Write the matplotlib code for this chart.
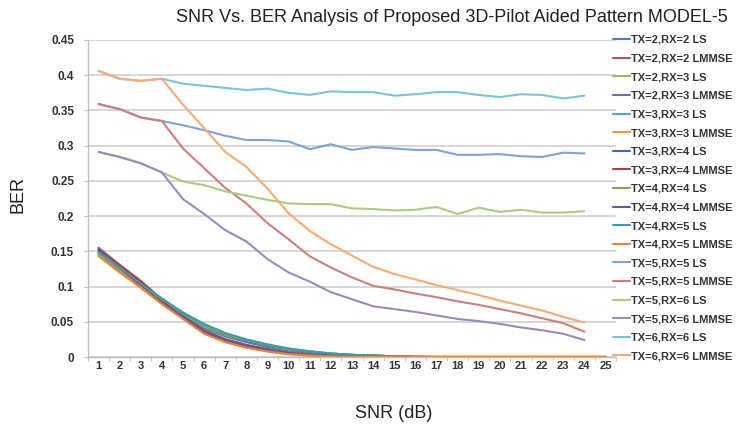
import matplotlib
matplotlib.use("Agg")
from matplotlib import pyplot as plt
import numpy as np

plt.rcParams["font.family"] = ["Liberation Sans", "DejaVu Sans"]

snr = list(range(1, 26))
x_labels = [str(s) for s in snr]

labels = [
    "TX=2,RX=2 LS", "TX=2,RX=2 LMMSE", "TX=2,RX=3 LS", "TX=2,RX=3 LMMSE",
    "TX=3,RX=3 LS", "TX=3,RX=3 LMMSE", "TX=3,RX=4 LS", "TX=3,RX=4 LMMSE",
    "TX=4,RX=4 LS", "TX=4,RX=4 LMMSE", "TX=4,RX=5 LS", "TX=4,RX=5 LMMSE",
    "TX=5,RX=5 LS", "TX=5,RX=5 LMMSE", "TX=5,RX=6 LS", "TX=5,RX=6 LMMSE",
    "TX=6,RX=6 LS", "TX=6,RX=6 LMMSE",
]

colors = [
    "#4F81BD", "#C0504D", "#9BBB59", "#8064A2", "#4BACC6", "#F79646",
    "#3F6FAA", "#A9413E", "#86A64A", "#6E5491", "#3A9AB3", "#E5833A",
    "#7FA3D3", "#CD7F7C", "#AECB7D", "#9D89BE", "#79C4D8", "#F9AB72",
]

# low-order configs (25 points each)
ber_2x2_ls = [0.150, 0.127, 0.103, 0.080, 0.059, 0.041, 0.029, 0.021, 0.014, 0.009, 0.006, 0.004, 0.002,
              0.001, 0.001, 0, 0, 0, 0, 0, 0, 0, 0, 0, 0]
ber_2x2_lmmse = [0.155, 0.131, 0.108, 0.082, 0.057, 0.037, 0.025, 0.017, 0.011, 0.006, 0.004, 0.002, 0.001,
                 0.001, 0, 0, 0, 0, 0, 0, 0, 0, 0, 0, 0]
ber_2x3_ls = [0.148, 0.126, 0.102, 0.081, 0.061, 0.044, 0.031, 0.023, 0.016, 0.011, 0.007, 0.004, 0.003,
              0.002, 0.001, 0.001, 0, 0, 0, 0, 0, 0, 0, 0, 0]
ber_2x3_lmmse = [0.154, 0.128, 0.100, 0.078, 0.056, 0.036, 0.024, 0.016, 0.010, 0.006, 0.003, 0.002, 0.001,
                 0, 0, 0, 0, 0, 0, 0, 0, 0, 0, 0, 0]
ber_3x3_ls = [0.147, 0.125, 0.103, 0.082, 0.062, 0.046, 0.033, 0.024, 0.017, 0.012, 0.008, 0.005, 0.003,
              0.002, 0.001, 0, 0, 0, 0, 0, 0, 0, 0, 0, 0]
ber_3x3_lmmse = [0.143, 0.120, 0.098, 0.076, 0.055, 0.034, 0.022, 0.014, 0.008, 0.004, 0.002, 0.001, 0,
                 0, 0, 0, 0, 0, 0, 0, 0, 0, 0, 0, 0]
ber_3x4_ls = [0.151, 0.128, 0.105, 0.082, 0.062, 0.045, 0.032, 0.023, 0.016, 0.011, 0.007, 0.004, 0.003,
              0.002, 0.001, 0, 0, 0, 0, 0, 0, 0, 0, 0, 0]
ber_3x4_lmmse = [0.152, 0.130, 0.107, 0.080, 0.055, 0.035, 0.024, 0.016, 0.010, 0.005, 0.003, 0.002, 0.001,
                 0, 0, 0, 0, 0, 0, 0, 0, 0, 0, 0, 0]
ber_4x4_ls = [0.146, 0.124, 0.102, 0.082, 0.063, 0.045, 0.032, 0.024, 0.017, 0.011, 0.008, 0.005, 0.003,
              0.002, 0.001, 0, 0, 0, 0, 0, 0, 0, 0, 0, 0]
ber_4x4_lmmse = [0.153, 0.127, 0.101, 0.077, 0.057, 0.038, 0.025, 0.017, 0.011, 0.006, 0.003, 0.002, 0.001,
                 0, 0, 0, 0, 0, 0, 0, 0, 0, 0, 0, 0]
ber_4x5_ls = [0.149, 0.127, 0.104, 0.083, 0.063, 0.047, 0.034, 0.025, 0.018, 0.012, 0.008, 0.005, 0.003,
              0.002, 0.001, 0, 0, 0, 0, 0, 0, 0, 0, 0, 0]
ber_4x5_lmmse = [0.144, 0.121, 0.099, 0.075, 0.054, 0.033, 0.021, 0.013, 0.008, 0.004, 0.002, 0.001, 0,
                 0, 0, 0, 0, 0, 0, 0, 0, 0, 0, 0, 0]

# high-order configs (24 points each)
ber_5x5_ls = [0.359, 0.352, 0.340, 0.335, 0.329, 0.322, 0.314, 0.308, 0.308, 0.306, 0.295, 0.302, 0.294,
              0.298, 0.296, 0.294, 0.294, 0.287, 0.287, 0.288, 0.285, 0.284, 0.290, 0.289]
ber_5x5_lmmse = [0.359, 0.352, 0.340, 0.335, 0.296, 0.268, 0.240, 0.218, 0.190, 0.167, 0.143, 0.127, 0.113,
                 0.101, 0.096, 0.090, 0.085, 0.079, 0.074, 0.068, 0.062, 0.055, 0.048, 0.036]
ber_5x6_ls = [0.291, 0.284, 0.275, 0.262, 0.249, 0.244, 0.235, 0.229, 0.223, 0.218, 0.217, 0.217, 0.211,
              0.210, 0.208, 0.209, 0.213, 0.203, 0.212, 0.206, 0.209, 0.205, 0.205, 0.207]
ber_5x6_lmmse = [0.291, 0.284, 0.275, 0.262, 0.224, 0.203, 0.180, 0.164, 0.139, 0.120, 0.107, 0.092, 0.082,
                 0.072, 0.068, 0.064, 0.059, 0.054, 0.051, 0.047, 0.042, 0.038, 0.033, 0.024]
ber_6x6_ls = [0.406, 0.395, 0.392, 0.395, 0.388, 0.385, 0.382, 0.379, 0.381, 0.375, 0.372, 0.377, 0.376,
              0.376, 0.371, 0.373, 0.376, 0.376, 0.372, 0.369, 0.373, 0.372, 0.367, 0.371]
ber_6x6_lmmse = [0.406, 0.395, 0.392, 0.395, 0.358, 0.325, 0.291, 0.270, 0.239, 0.204, 0.179, 0.160, 0.144,
                 0.128, 0.118, 0.110, 0.102, 0.095, 0.088, 0.080, 0.073, 0.066, 0.057, 0.049]

series = [
    ber_2x2_ls, ber_2x2_lmmse, ber_2x3_ls, ber_2x3_lmmse, ber_3x3_ls, ber_3x3_lmmse,
    ber_3x4_ls, ber_3x4_lmmse, ber_4x4_ls, ber_4x4_lmmse, ber_4x5_ls, ber_4x5_lmmse,
    ber_5x5_ls, ber_5x5_lmmse, ber_5x6_ls, ber_5x6_lmmse, ber_6x6_ls, ber_6x6_lmmse,
]

fig = plt.figure(figsize=(7.37, 4.32), dpi=100)
ax = fig.add_axes([88 / 737, 75 / 432, 528 / 737, 317 / 432])

for vals, lab, col in zip(series, labels, colors):
    ax.plot(snr[:len(vals)], vals, color=col, lw=1.5, label=lab, solid_capstyle="round")

ax.set_xlim(0.5, 25.5)
ax.set_ylim(0, 0.45)
ax.set_xticks(snr)
ax.set_xticklabels(x_labels)
ax.set_xticks(np.arange(0.5, 26, 1), minor=True)
ax.set_yticks(np.arange(0, 0.451, 0.05))
ax.set_yticklabels(["0", "0.05", "0.1", "0.15", "0.2", "0.25", "0.3", "0.35", "0.4", "0.45"])
ax.tick_params(axis="x", which="major", length=0, pad=3, labelsize=8)
ax.tick_params(axis="x", which="minor", length=3, color="#bfbfbf")
ax.tick_params(axis="y", length=3, color="#bfbfbf", pad=7, labelsize=8.5)
for t in ax.get_xticklabels() + ax.get_yticklabels():
    t.set_fontweight("bold")
    t.set_color("#333333")

ax.grid(axis="y", color="#cfcfcf", lw=1.2)
ax.set_axisbelow(True)
for s in ["top", "right"]:
    ax.spines[s].set_visible(False)
for s in ["left", "bottom"]:
    ax.spines[s].set_color("#bfbfbf")
    ax.spines[s].set_linewidth(1.0)

fig.text(452 / 737, 1 - 18 / 432, "SNR Vs. BER Analysis of Proposed 3D-Pilot Aided Pattern MODEL-5",
         ha="center", va="center", fontsize=13, color="#222222")
fig.text(18 / 737, 1 - 195 / 432, "BER", rotation=90, ha="center", va="center", fontsize=13, color="#222222")
fig.text(394 / 737, 1 - 413 / 432, "SNR (dB)", ha="center", va="center", fontsize=13, color="#222222")

leg = fig.legend(loc="upper left", bbox_to_anchor=(613 / 737, 1 - 35 / 432), frameon=False,
                 handlelength=1.5, handletextpad=0.1, labelspacing=0.775, borderpad=0, borderaxespad=0,
                 prop={"size": 8, "weight": "bold"})
for t in leg.get_texts():
    t.set_color("#333333")

plt.savefig("out.png", dpi=100)
